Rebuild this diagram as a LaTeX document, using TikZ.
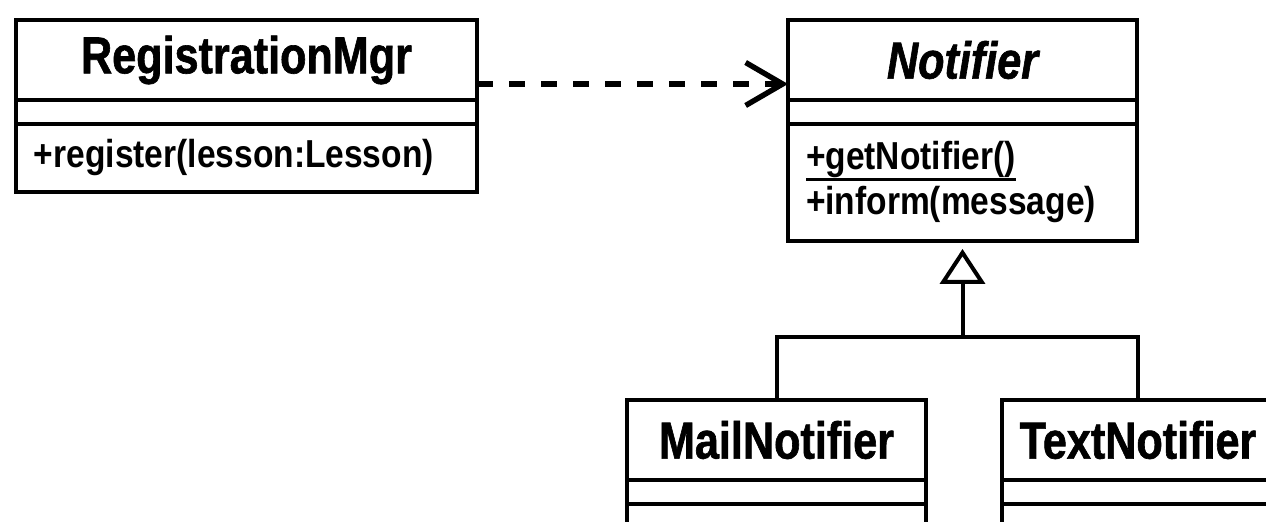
\documentclass[tikz,border=0pt]{standalone}
\usepackage{fontspec}
\setmainfont{Liberation Sans}
\newfontfamily\namefont[FakeStretch=0.83,FakeBold=1.2]{Liberation Sans}
\newfontfamily\opsfont[FakeStretch=0.86]{Liberation Sans}
\usetikzlibrary{positioning,arrows.meta}

\newcommand{\ulstatic}[1]{\setbox0\hbox{#1}\rlap{\rule[-5.5pt]{\wd0}{1.5pt}}\box0}

\begin{document}
\begin{tikzpicture}[line width=2pt,
  clsname/.style={draw,outer sep=0pt,minimum height=40pt,font=\namefont\bfseries\fontsize{26}{30}\selectfont},
  clsattr/.style={draw,outer sep=0pt,minimum height=12pt,inner sep=0pt},
  clsops/.style={draw,outer sep=0pt,inner xsep=9pt,align=left,font=\opsfont\bfseries\fontsize{19.5}{22.5}\selectfont},
  gen/.style={-{Triangle[open,length=17.5pt,width=22.5pt]},shorten >=4pt},
  dep/.style={-{Straight Barb[length=18.5pt,width=21.5pt]},line width=2.7pt,dash pattern=on 8pt off 8pt}]

\useasboundingbox (-123.25pt,30pt) rectangle (509.75pt,-231pt);
\clip (-123.25pt,30pt) rectangle (509.75pt,-231pt);

% classes
\node[clsname,minimum width=230.5pt] (reg) at (0,0) {RegistrationMgr};
\node[clsattr,minimum width=230.5pt,below=0pt of reg] (regattr) {};
\node[clsops,minimum height=34pt,text width=212.5pt,below=0pt of regattr] (regops) {+register(lesson:Lesson)};

\node[clsname,minimum width=174.5pt,right=155.5pt of reg] (ntf) {\itshape Notifier};
\node[clsattr,minimum width=174.5pt,below=0pt of ntf] (ntfattr) {};
\node[clsops,minimum height=58.5pt,text width=156.5pt,below=0pt of ntfattr] (ntfops) {\ulstatic{+getNotifier()}\\+inform(message)};

\node[clsname,minimum width=149.5pt,below=79.5pt of ntfops.south,xshift=-93pt] (mail) {MailNotifier};
\node[clsattr,minimum width=149.5pt,below=0pt of mail] (mailattr) {};
\node[clsops,minimum height=30pt,minimum width=149.5pt,below=0pt of mailattr] (mailops) {};

\node[clsname,minimum width=136pt,right=38pt of mail] (txt) {TextNotifier};
\node[clsattr,minimum width=136pt,below=0pt of txt] (txtattr) {};
\node[clsops,minimum height=30pt,minimum width=136pt,below=0pt of txtattr] (txtops) {};

% dependency
\draw[dep] ([yshift=-12pt]reg.east) -- ([yshift=-12pt]ntf.west);

% generalization
\coordinate[below=48pt of ntfops.south] (hub);
\draw[gen] (hub) -- (ntfops.south);
\draw (mail.north) |- (hub) -| (txt.north);
\end{tikzpicture}
\end{document}
